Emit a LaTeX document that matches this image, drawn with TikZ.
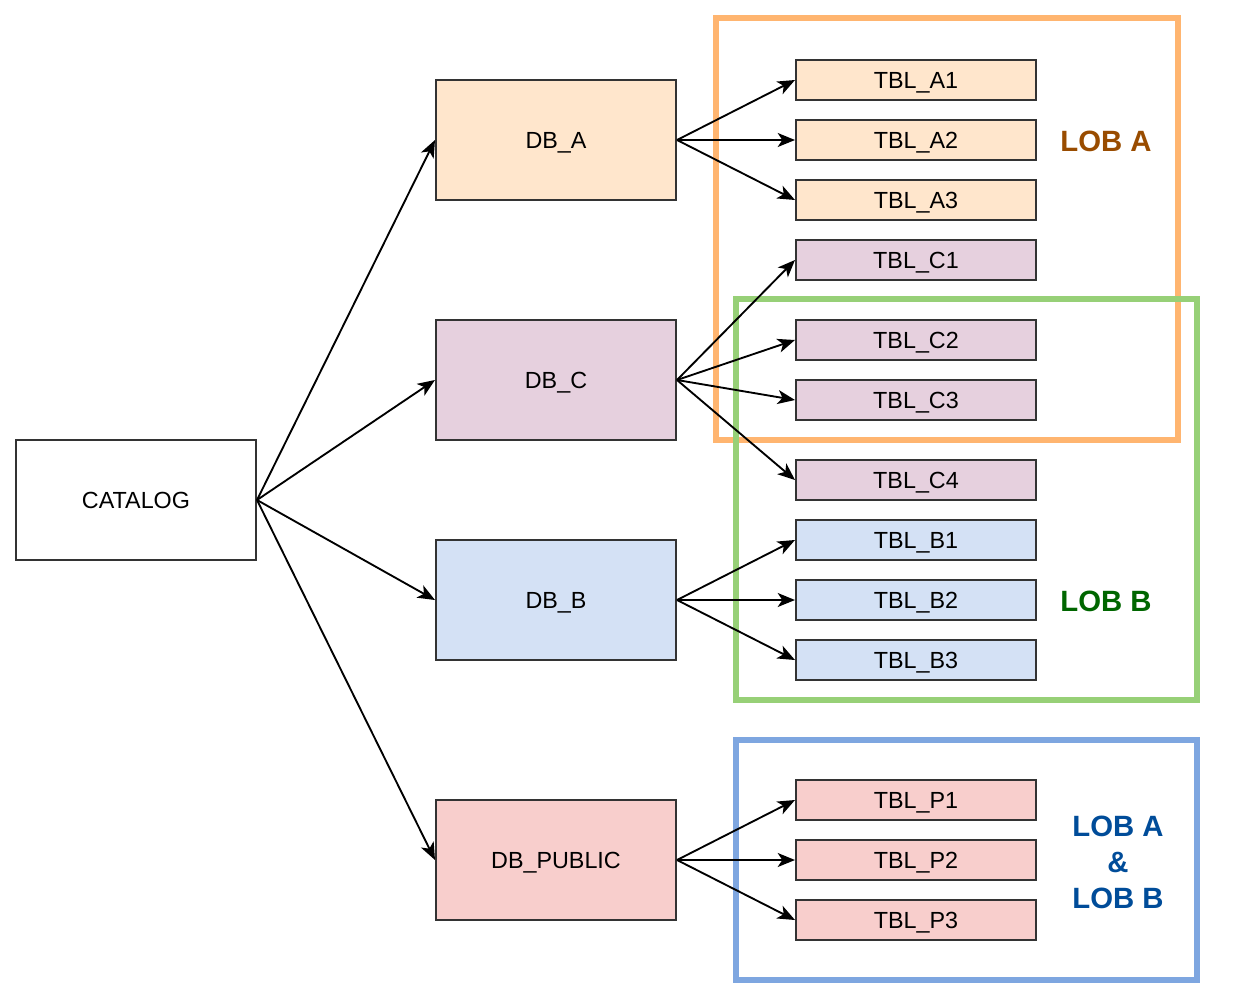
\documentclass[tikz,border=0pt]{standalone}
\usepackage{fontspec}
\setmainfont{Liberation Sans}
\usetikzlibrary{arrows.meta}
\definecolor{fa}{HTML}{FFE6CC}
\definecolor{fc}{HTML}{E6D0DE}
\definecolor{fb}{HTML}{D4E1F5}
\definecolor{fp}{HTML}{F8CECC}
\definecolor{bo}{HTML}{FFB570}
\definecolor{bg}{HTML}{97D077}
\definecolor{bb}{HTML}{7EA6E0}
\definecolor{to}{HTML}{994C00}
\definecolor{tg}{HTML}{006600}
\definecolor{tb}{HTML}{004C99}
\begin{document}
\begin{tikzpicture}[x=0.75pt,y=-0.75pt,
  dbbox/.style={draw=black!80,line width=1.5pt,minimum width=180pt,minimum height=90pt,inner sep=0pt,text height=12.5pt,text depth=0pt,font=\fontsize{17.5}{21}\selectfont},
  tblbox/.style={draw=black!80,line width=1.5pt,minimum width=180pt,minimum height=30pt,inner sep=0pt,text height=12.5pt,text depth=0pt,font=\fontsize{17.5}{21}\selectfont},
  conn/.style={line width=1.4pt,-{Stealth[length=13pt,width=10.5pt,inset=3.5pt]}},
  lobbox/.style={line width=4.5pt},
  lob/.style={font=\bfseries\fontsize{22}{27}\selectfont,align=center}]
\useasboundingbox (0,0) rectangle (1256,1000);
% LOB regions
\draw[lobbox,bo] (716,18) rectangle (1178,440);
\draw[lobbox,bg] (736,299) rectangle (1197,700);
\draw[lobbox,bb] (736,740) rectangle (1197,980);
% nodes
\node[dbbox,fill=white] (cat) at (136,500) {CATALOG};
\node[dbbox,fill=fa] (dba) at (556,140) {DB\_A};
\node[dbbox,fill=fc] (dbc) at (556,380) {DB\_C};
\node[dbbox,fill=fb] (dbb) at (556,600) {DB\_B};
\node[dbbox,fill=fp] (dbp) at (556,860) {DB\_PUBLIC};
\foreach \n/\y/\f in {A1/80/fa,A2/140/fa,A3/200/fa,C1/260/fc,C2/340/fc,C3/400/fc,C4/480/fc,B1/540/fb,B2/600/fb,B3/660/fb,P1/800/fp,P2/860/fp,P3/920/fp}
  \node[tblbox,fill=\f] (t\n) at (916,\y) {TBL\_\n};
% labels
\node[lob,text=to] (la) at (1106,141) {LOB A};
\node[lob,text=tg] (lb) at (1106,601) {LOB B};
\node[lob,text=tb] (lab) at (1118,862) {LOB A\\[0pt]\&\\[0pt]LOB B};
% connectors
\foreach \d in {dba,dbc,dbb,dbp}
  \draw[conn] (cat.east) -- (\d.west);
\foreach \t in {A1,A2,A3}
  \draw[conn] (dba.east) -- (t\t.west);
\foreach \t in {C1,C2,C3,C4}
  \draw[conn] (dbc.east) -- (t\t.west);
\foreach \t in {B1,B2,B3}
  \draw[conn] (dbb.east) -- (t\t.west);
\foreach \t in {P1,P2,P3}
  \draw[conn] (dbp.east) -- (t\t.west);
\end{tikzpicture}
\end{document}
